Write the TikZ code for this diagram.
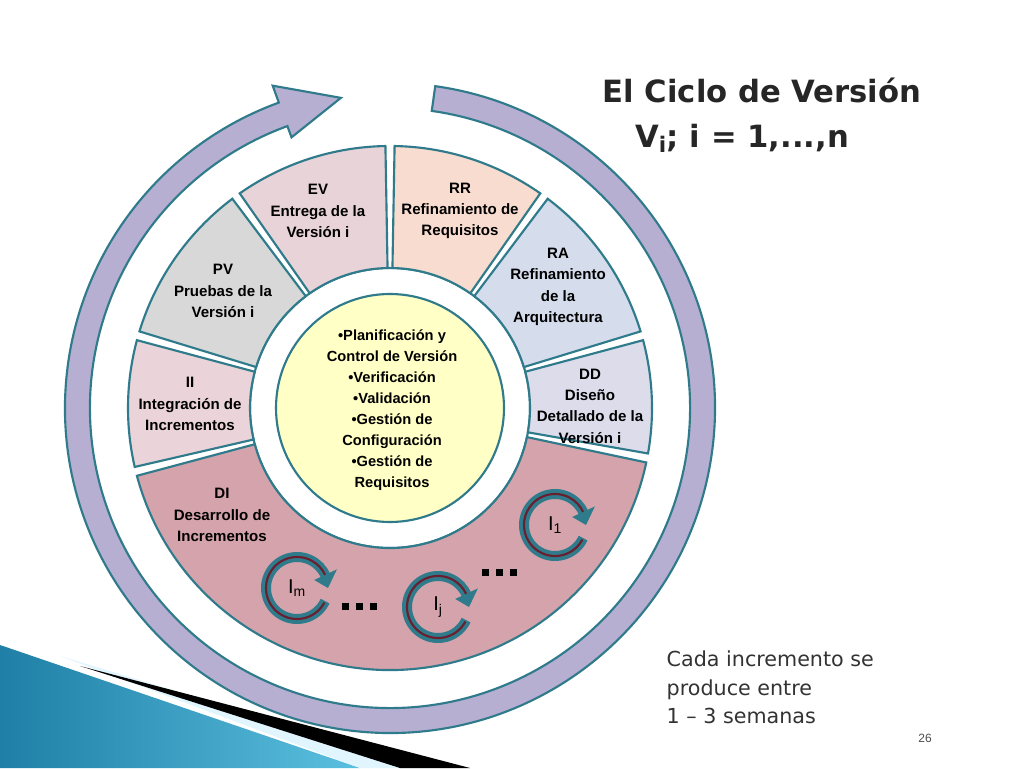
\documentclass[tikz,border=0pt]{standalone}
\usepackage{fontspec}
\setmainfont{Liberation Sans}
\newfontfamily\titlefont{DejaVu Sans}
\usetikzlibrary{calc,arrows.meta}
\definecolor{teal1}{HTML}{2F7B8B}
\definecolor{ringf}{HTML}{B6AFD2}
\definecolor{cEV}{HTML}{E8D3D8}
\definecolor{cRR}{HTML}{F8DCCF}
\definecolor{cRA}{HTML}{D5DCEC}
\definecolor{cDD}{HTML}{DCDCEB}
\definecolor{cPV}{HTML}{D8D8D8}
\definecolor{cII}{HTML}{EBD4D9}
\definecolor{cDI}{HTML}{D5A3AB}
\definecolor{cY}{HTML}{FFFFC6}
\definecolor{darkred}{HTML}{6B1F2E}
\definecolor{blueA}{HTML}{1F7FA6}
\definecolor{blueB}{HTML}{5BC0E0}
\tikzset{
 segb/.style={draw=teal1,line width=1.6pt},
 seg/.style={font=\bfseries\fontsize{11.3}{16}\selectfont,align=center,text=black},
 loop/.style={teal1,line width=7.5pt},
 loopin/.style={darkred,line width=1.6pt},
}
\newcommand\sect[3]{\draw[segb,fill=#3] ($(C)+(#1:262)$) arc[start angle=#1,end angle=#2,radius=262] -- ($(C)+(#2:140)$) arc[start angle=#2,end angle=#1,radius=140] -- cycle;}
\newcommand\loopat[2]{%
 \draw[loop] ($(#1)+(-25:31)$) arc[start angle=-25,end angle=-338,radius=31];
 \fill[teal1] ($(#1)+(25:19)$) -- ($(#1)+(25:44)$) -- ($(#1)+(0:31)$) -- cycle;
 \draw[loopin] ($(#1)+(-28:31)$) arc[start angle=-28,end angle=-335,radius=31];
 \node[font=\fontsize{15}{15}\selectfont] at (#1) {#2};}
\begin{document}
\begin{tikzpicture}[x=0.75pt,y=0.75pt]
\useasboundingbox (0,0) rectangle (1024,768);
\fill[white] (0,0) rectangle (1024,768);
\coordinate (C) at (390,360);
% bottom-left decoration
\shade[left color=blueA,right color=blueB] (0,123) -- (360,0) -- (0,0) -- cycle;
\fill[cyan!12] (60,112) -- (430,0) -- (360,0) -- cycle;
\fill[black] (80,102) -- (470,0) -- (400,0) -- cycle;
% outer ring arrow
\draw[segb,fill=ringf] ($(C)+(82:325)$) arc[start angle=82,end angle=-250,radius=325]
 -- ($(C)+(-250:343)$) -- ($(C)+(-261:314)$) -- ($(C)+(-250:288)$) -- ($(C)+(-250:300)$)
 arc[start angle=-250,end angle=82,radius=300] -- cycle;
% centre white disc
\draw[segb,fill=white] (C) circle[radius=140];
% sectors
\sect{91}{125}{cEV}
\sect{55}{89}{cRR}
\sect{17}{53}{cRA}
\sect{-10}{15}{cDD}
\sect{-165}{-12}{cDI}
\sect{165}{193}{cII}
\sect{127}{163}{cPV}
\draw[segb,fill=cY] (C) circle[radius=114];
\node[seg] (ev) at (318,557) {EV\\Entrega de la\\Versión i};
\node[seg] (rr) at (460,557) {RR\\Refinamiento de\\Requisitos};
\node[seg] (ra) at (558,481) {RA\\Refinamiento\\de la\\Arquitectura};
\node[seg] (dd) at (590,362) {DD\\Diseño\\Detallado de la\\Versión i};
\node[seg] (pv) at (223,477) {PV\\Pruebas de la\\Versión i};
\node[seg] (ii) at (190,364) {II\\Integración de\\Incrementos};
\node[seg] (di) at (222,253) {DI\\Desarrollo de\\Incrementos};
\node[seg,font=\bfseries\fontsize{11}{15.8}\selectfont] (ce) at (392,358) {•Planificación y\\Control de Versión\\•Verificación\\•Validación\\•Gestión de\\Configuración\\•Gestión de\\Requisitos};
% loops
\coordinate (l1) at (555,243);
\coordinate (lj) at (438,161);
\coordinate (lm) at (297,180);
\loopat{l1}{I\textsubscript{1}}
\loopat{lj}{I\textsubscript{j}}
\loopat{lm}{I\textsubscript{m}}
\foreach \x in {342,356,370} \fill (\x,158) rectangle ++(7,7);
\foreach \x in {482,496,510} \fill (\x,192) rectangle ++(7,7);
% titles
\node[font=\titlefont\bfseries\fontsize{23}{26}\selectfont,text=black!85] (t1) at (762,678) {El Ciclo de Versión};
\node[font=\titlefont\bfseries\fontsize{23}{26}\selectfont,text=black!85] (t2) at (742,630) {V\textsubscript{i}; i = 1,...,n};
\node[font=\titlefont\fontsize{15.5}{21.5}\selectfont,text=black!80,align=left,anchor=north west] (t3) at (662,122) {Cada incremento se\\produce entre\\1 – 3 semanas};
\node[font=\fontsize{9}{10}\selectfont,text=black!70] (pg) at (925,30) {26};
\end{tikzpicture}
\end{document}
